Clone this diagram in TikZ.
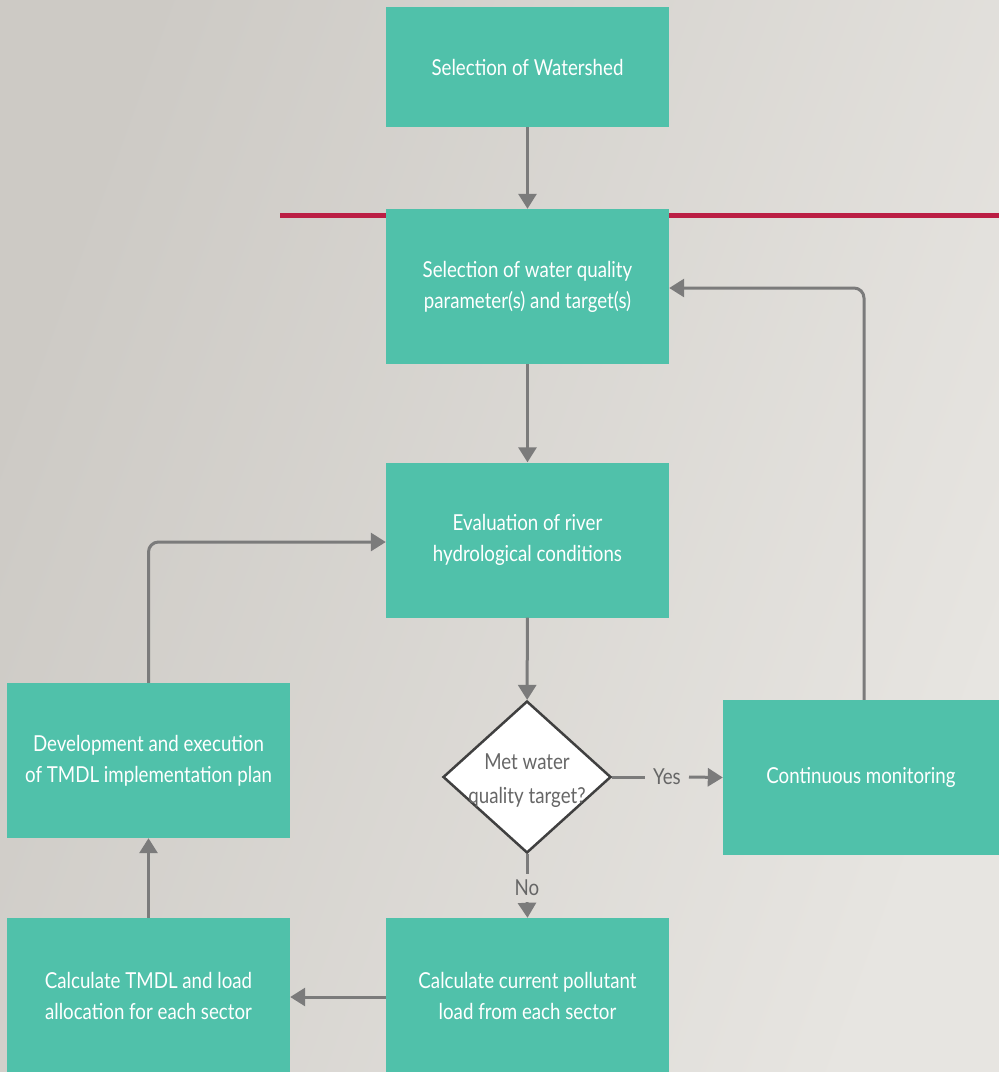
\documentclass[tikz,border=0pt]{standalone}
\usepackage{fontspec}
\setmainfont[FakeStretch=0.85]{Lato}
\usetikzlibrary{arrows.meta,shapes.geometric}

\definecolor{boxgreen}{HTML}{50C1AA}
\definecolor{linkgray}{HTML}{7B7B7B}
\definecolor{rulered}{HTML}{BB1E44}
\definecolor{bgdark}{HTML}{CDCAC5}
\definecolor{bglight}{HTML}{E7E5E1}

\tikzset{
	stepbox/.style={fill=boxgreen, text=white, align=center, inner sep=0pt,
		minimum width=283pt, minimum height=155pt, font=\fontsize{22}{31}\selectfont},
	decision/.style={diamond, draw=black!75, fill=white, line width=2.5pt, inner sep=0pt,
		minimum width=168pt, minimum height=152pt},
	graytext/.style={text=black!60, align=center, inner sep=6pt, font=\fontsize{22}{34}\selectfont},
	link/.style={draw=linkgray, line width=3pt, rounded corners=10pt,
		-{Triangle[length=15pt,width=18pt]}},
}

\begin{document}
\begin{tikzpicture}[x=1pt,y=-1pt]
	\shade[left color=bgdark, right color=bglight, shading angle=70] (0,0) rectangle (999,1072);
	\useasboundingbox (0,0) rectangle (999,1072);
	\draw[rulered, line width=5pt] (280,215) -- (999,215);

	% boxes
	\node[stepbox, minimum height=120pt] (shed) at (527.5,67) {Selection of Watershed};
	\node[stepbox] (param) at (527.5,286.5) {Selection of water quality\\parameter(s) and target(s)};
	\node[stepbox] (hydro) at (527.5,540) {Evaluation of river\\hydrological conditions};
	\node[decision] (met) at (527,777) {};
	\node[graytext, inner sep=0pt] (mettext) at (527,781) {Met water\\quality target?};
	\node[stepbox, minimum width=276pt] (monitor) at (861,777.5) {Continuous monitoring};
	\node[stepbox] (plan) at (148.5,760.5) {Development and execution\\of TMDL implementation plan};
	\node[stepbox] (tmdl) at (148.5,995.5) {Calculate TMDL and load\\allocation for each sector};
	\node[stepbox] (load) at (527.5,995.5) {Calculate current pollutant\\load from each sector};
	\node[graytext, inner xsep=8pt] (yes) at (667,777) {Yes};
	\node[graytext] (no) at (527,888) {No};

	% connectors
	\draw[link] (shed) -- (param);
	\draw[link] (param) -- (hydro);
	\draw[link] (hydro) -- (met);
	\draw[linkgray, line width=3pt] (met.east) -- (yes.west);
	\draw[link] (yes.east) -- (monitor.west);
	\draw[linkgray, line width=3pt] (met.south) -- (no.north);
	\draw[link] (no.south) -- (load.north);
	\draw[link] (load.west |- 0,997) -- (tmdl.east |- 0,997);
	\draw[link] (tmdl) -- (plan);
	\draw[link] (plan.north) |- (hydro.west |- 0,542);
	\draw[link] (monitor.north -| 864,0) |- (param.east |- 0,288);
\end{tikzpicture}
\end{document}
